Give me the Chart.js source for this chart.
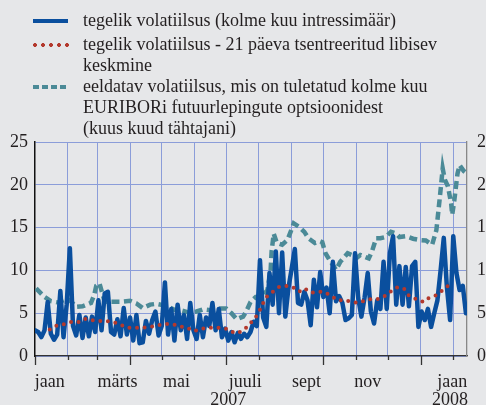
<!DOCTYPE html>
<html>
<head>
<meta charset="utf-8">
<script src="https://cdn.jsdelivr.net/npm/chart.js@4.4.1/dist/chart.umd.min.js"></script>
<style>
  html, body { margin: 0; padding: 0; }
  body {
    width: 486px; height: 405px; overflow: hidden; position: relative;
    background: #e6e7e9; color: #231f20;
    font-family: "Liberation Serif", "Times New Roman", serif;
  }
  #wrap { position: absolute; left: 0; top: 0; width: 520px; height: 405px; }
  .key { position: absolute; left: 33px; width: 35px; height: 4px; }
  .txt { position: absolute; left: 83px; font-size: 18px; line-height: 21px; white-space: nowrap; }
</style>
</head>
<body>
<div id="wrap"><canvas id="volChart" width="520" height="405"></canvas></div>

<div class="key" style="top:19px;background:#0a4f9e"></div>
<div class="txt" style="top:10px">tegelik volatiilsus (kolme kuu intressimäär)</div>
<div class="key" style="top:43px;width:37px;background:radial-gradient(circle at 2px 2px,#b3392d 1.7px,transparent 2.2px) 0 0/8px 4px repeat-x"></div>
<div class="txt" style="top:34px">tegelik volatiilsus - 21 päeva tsentreeritud libisev<br>keskmine</div>
<div class="key" style="top:85px;background:linear-gradient(90deg,#4b8a97 0 6px,transparent 6px 9px) 0 0/9px 4px repeat-x"></div>
<div class="txt" style="top:76px">eeldatav volatiilsus, mis on tuletatud kolme kuu<br>EURIBORi futuurlepingute optsioonidest<br>(kuus kuud tähtajani)</div>

<script>
// x axis = days since 1 Jan 2007
const monthStarts = [31, 59, 90, 120, 151, 181, 212, 243, 273, 304, 334, 365, 396];
const quarterStarts = [0, 90, 181, 273, 365];
const monthLabelDays = [14, 78, 134, 199, 257, 315, 395];
const monthLabels = ['jaan', 'märts', 'mai', 'juuli', 'sept', 'nov', 'jaan'];
const yearDays = [183, 393];
const yearLabels = ['2007', '2008'];
const yTicks = [0, 5, 10, 15, 20, 25];

// actual volatility, one reading every 3 days starting 1 Jan 2007
const actualStart = 0;
const actualStep = 3;
const actualVol = [
  3.0, 2.8, 2.2, 3.0, 6.3, 2.6, 1.9, 2.5, 7.6, 2.2, 6.0, 12.6, 3.5, 2.4, 4.8, 2.1,
  4.5, 2.3, 4.6, 2.8, 6.5, 3.0, 7.3, 7.5, 2.8, 2.5, 4.3, 2.3, 5.6, 2.5, 4.5, 1.8,
  4.8, 1.5, 1.6, 4.1, 2.6, 4.2, 5.2, 2.4, 3.5, 8.6, 2.5, 5.5, 1.8, 6.0, 3.0, 4.8,
  2.0, 6.2, 3.0, 2.0, 4.8, 2.2, 4.5, 3.5, 6.2, 3.0, 5.5, 2.2, 3.2, 1.8, 2.8, 1.6,
  2.7, 2.0, 2.6, 2.2, 2.8, 4.0, 3.5, 11.2, 4.5, 3.4, 9.7, 6.0, 12.2, 5.0, 12.1, 4.6,
  8.0, 10.2, 12.5, 6.2, 6.0, 7.5, 6.5, 3.6, 8.9, 5.7, 9.8, 6.9, 8.0, 5.0, 11.0, 6.4,
  7.0, 6.2, 4.2, 4.4, 4.8, 12.0, 6.8, 4.6, 6.8, 9.7, 5.2, 3.8, 6.5, 5.5, 11.0, 5.5,
  12.0, 14.0, 6.0, 10.5, 6.0, 10.4, 5.8, 10.5, 11.0, 3.4, 5.2, 4.2, 5.5, 3.4, 5.0, 6.5,
  10.0, 13.8, 8.0, 4.2, 14.0, 9.7, 7.7, 8.2, 5.0
];

// 21-day centred moving average
const avgDays = [14, 21, 27, 35, 41, 47, 52, 59, 66, 74, 80, 87, 95, 102, 109, 116, 124, 131, 137, 144,
  150, 158, 165, 172, 180, 187, 192, 199, 204, 209, 213, 216, 219, 225, 231, 237, 244, 250, 255, 261,
  268, 274, 280, 287, 293, 299, 305, 313, 318, 323, 328, 334, 339, 344, 350, 354, 360, 368, 373, 379,
  385, 391];
const avgVol = [3.1, 3.6, 3.7, 4.0, 3.95, 4.35, 4.2, 4.1, 4.1, 4.0, 3.7, 3.3, 3.3, 3.3, 3.4, 3.6, 3.75, 3.7, 3.45, 3.3,
  2.9, 3.2, 3.3, 3.3, 3.25, 2.8, 2.65, 3.2, 3.85, 4.55, 5.4, 6.2, 6.9, 7.5, 8.05, 8.2, 8.05, 7.5, 7.9, 7.4,
  7.5, 7.5, 7.05, 6.5, 6.55, 6.35, 6.2, 6.5, 6.65, 6.6, 6.8, 7.2, 7.8, 8.05, 7.8, 7.05, 6.7, 6.3, 6.8, 7.05,
  7.6, 8.2];

// implied volatility from 3M EURIBOR futures options
const implDays = [1, 9, 15, 22, 30, 34, 39, 45, 53, 56, 58, 61, 66, 74, 82, 90, 96, 102, 109, 115,
  121, 126, 132, 139, 145, 153, 159, 166, 173, 181, 186, 191, 197, 200, 204, 209, 215, 220, 223, 224,
  226, 229, 234, 239, 242, 245, 250, 255, 259, 265, 270, 272, 275, 280, 285, 289, 296, 300, 304, 308,
  316, 319, 323, 327, 332, 337, 342, 345, 351, 358, 364, 370, 376, 380, 383, 386, 388, 391, 394, 395,
  397, 400, 402, 406, 409];
const implVol = [7.9, 6.9, 6.4, 6.25, 6.7, 6.4, 5.75, 5.8, 6.2, 7.1, 8.2, 8.5, 6.35, 6.35, 6.35, 6.45, 6.15, 5.6, 6.0, 6.1,
  5.95, 5.75, 5.4, 5.3, 5.1, 5.2, 5.45, 5.35, 5.55, 5.55, 5.0, 4.3, 4.6, 5.2, 6.3, 6.9, 6.9, 7.7, 9.85, 12.2,
  14.3, 13.2, 13.0, 13.55, 14.5, 15.5, 15.1, 14.5, 13.75, 13.2, 13.4, 13.3, 12.0, 11.0, 10.05, 11.0, 12.0, 11.8, 11.4, 11.8,
  11.4, 12.2, 13.75, 13.75, 13.9, 14.5, 14.3, 13.9, 14.0, 13.7, 13.55, 13.5, 13.0, 14.7, 18.2, 21.9, 20.6, 19.8, 17.8, 16.5,
  18.2, 21.3, 22.3, 21.6, 21.3];

const serif = { family: 'Liberation Serif', size: 18, lineHeight: 1 };
const textColor = '#231f20';
const gridColor = '#8b9dd9';

function pairs(xs, ys) {
  return ys.map((v, i) => ({ x: xs[i], y: v }));
}
const actualPts = actualVol.map((v, i) => ({ x: actualStart + i * actualStep, y: v }));

// months on the first label line, years on the second
const labelDays = monthLabelDays.concat(yearDays);
const labelText = monthLabels.concat(yearLabels.map(y => ['', y]));

// month tick marks below the axis, longer at quarter starts
const tickMarks = {
  id: 'tickMarks',
  afterDraw(chart) {
    const xs = chart.scales.x;
    const y0 = chart.chartArea.bottom;
    const ctx = chart.ctx;
    ctx.save();
    ctx.strokeStyle = '#333';
    ctx.lineWidth = 1.3;
    [0, ...monthStarts].forEach(d => {
      const px = Math.round(xs.getPixelForValue(d)) + 0.5;
      const len = quarterStarts.includes(d) ? 9 : 4;
      ctx.beginPath();
      ctx.moveTo(px, y0);
      ctx.lineTo(px, y0 + len);
      ctx.stroke();
    });
    ctx.restore();
  }
};

new Chart(document.getElementById('volChart'), {
  type: 'line',
  data: {
    datasets: [
      {
        label: 'tegelik volatiilsus - 21 päeva tsentreeritud libisev keskmine',
        data: pairs(avgDays, avgVol),
        borderColor: '#b3392d', borderWidth: 4, borderDash: [0, 7.6],
        borderCapStyle: 'round', pointRadius: 0, order: 0
      },
      {
        label: 'tegelik volatiilsus (kolme kuu intressimäär)',
        data: actualPts,
        borderColor: '#0a4f9e', borderWidth: 4.5, borderJoinStyle: 'round',
        borderCapStyle: 'round', pointRadius: 0, order: 1
      },
      {
        label: 'eeldatav volatiilsus',
        data: pairs(implDays, implVol),
        borderColor: '#4b8a97', borderWidth: 4.5, borderDash: [8, 4.5],
        pointRadius: 0, order: 2
      }
    ]
  },
  options: {
    responsive: false,
    animation: false,
    devicePixelRatio: 1,
    layout: { padding: { top: 142, left: 0, right: 0, bottom: 0 } },
    plugins: { legend: { display: false }, tooltip: { enabled: false } },
    scales: {
      x: {
        type: 'linear', position: 'bottom', weight: 0, min: 0, max: 409,
        afterBuildTicks: s => { s.ticks = monthStarts.map(d => ({ value: d })); },
        afterFit: s => { s.height = 2; },
        grid: { color: gridColor, lineWidth: 1, drawTicks: false },
        border: { color: '#333', width: 1.3 },
        ticks: { display: false }
      },
      xm: {
        type: 'linear', position: 'bottom', weight: 1, min: 0, max: 409,
        afterBuildTicks: s => { s.ticks = labelDays.map(d => ({ value: d })); },
        afterFit: s => { s.height = 47; },
        grid: { display: false, drawTicks: false },
        border: { display: false },
        ticks: {
          autoSkip: false, maxRotation: 0, padding: 15, font: serif, color: textColor,
          callback: v => labelText[labelDays.indexOf(v)]
        }
      },
      y: {
        position: 'left', min: 0, max: 25,
        afterBuildTicks: s => { s.ticks = yTicks.map(v => ({ value: v })); },
        afterFit: s => { s.width = 35; },
        grid: { color: gridColor, lineWidth: 1, drawTicks: false },
        border: { color: '#111', width: 1.5 },
        ticks: { padding: 7, font: serif, color: textColor }
      },
      y2: {
        position: 'right', min: 0, max: 25,
        afterBuildTicks: s => { s.ticks = yTicks.map(v => ({ value: v })); },
        afterFit: s => { s.width = 53; },
        grid: { display: false, drawTicks: false },
        border: { color: '#888', width: 1.3 },
        ticks: { padding: 10, font: serif, color: textColor }
      }
    }
  },
  plugins: [tickMarks]
});
</script>
</body>
</html>
